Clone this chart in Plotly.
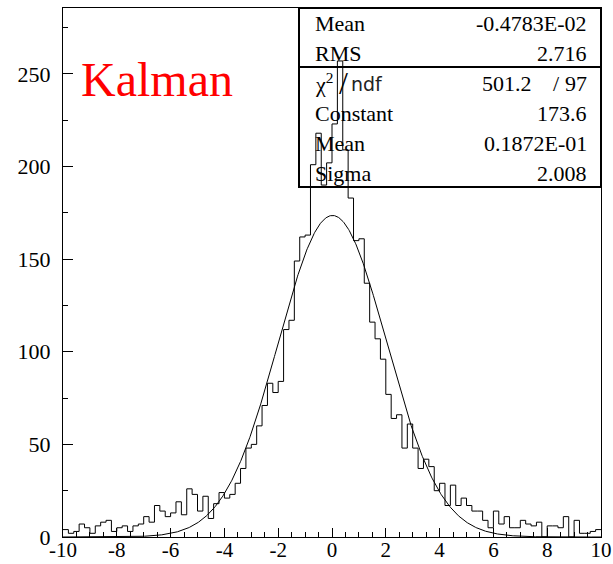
import numpy as np
import plotly.graph_objects as go

# Histogram definition: 100 bins of width 0.2 on [-10, 10]
x_min, x_max, n_bins = -10.0, 10.0, 100
counts = [
    4, 2, 3, 7, 5, 2, 6, 8, 9, 3,
    5, 6, 3, 6, 7, 11, 8, 17, 14, 11,
    13, 19, 12, 26, 23, 14, 22, 10, 18, 24,
    21, 23, 29, 37, 48, 50, 60, 71, 83, 78,
    84, 112, 117, 149, 162, 163, 201, 218, 190, 202,
    223, 257, 209, 183, 160, 161, 137, 116, 107, 96,
    77, 64, 66, 48, 61, 48, 37, 42, 38, 25,
    29, 17, 28, 17, 21, 17, 14, 14, 9, 5,
    14, 7, 11, 5, 5, 9, 7, 6, 8, 0,
    6, 6, 5, 11, 0, 9, 2, 2, 3, 4,
]

# Gaussian fit result
fit_constant = 173.6
fit_mean = 0.1872e-01
fit_sigma = 2.008

# Statistics box contents
stat_labels = ["Mean", "RMS", "χ<sup>2</sup>",
               "Constant", "Mean", "Sigma"]
stat_values = ["-0.4783E-02", "2.716", None, "173.6", "0.1872E-01", "2.008"]
chi2_text, ndf_text = "501.2", "97"

x_tickvals = [-10, -8, -6, -4, -2, 0, 2, 4, 6, 8, 10]
x_ticktext = ["-10", "-8", "-6", "-4", "-2", "0", "2", "4", "6", "8", "10"]
y_tickvals = [0, 50, 100, 150, 200, 250]
y_ticktext = ["0", "50", "100", "150", "200", "250"]
y_top = 285.6

# Page geometry
W, H = 613, 564
L, R, T, B = 63, 12, 8, 27
pw, ph = W - L - R, H - T - B


def px(xp):
    return (xp - L) / pw


def py(yp):
    return (H - B - yp) / ph


edges = np.linspace(x_min, x_max, n_bins + 1)
step_y = counts + [counts[-1]]

xf = np.linspace(x_min, x_max, 1001)
yf = fit_constant * np.exp(-0.5 * ((xf - fit_mean) / fit_sigma) ** 2)

serif = "Liberation Serif, Times New Roman, serif"
sans = "DejaVu Sans, sans-serif"

fig = go.Figure()
fig.add_trace(go.Scatter(x=edges, y=step_y, mode="lines", line_shape="hv",
                         line=dict(color="black", width=1), hoverinfo="skip"))
fig.add_trace(go.Scatter(x=xf, y=yf, mode="lines",
                         line=dict(color="black", width=1), hoverinfo="skip"))

axis_common = dict(showline=True, mirror=True, linecolor="black", linewidth=1,
                   showgrid=False, zeroline=False, ticks="inside",
                   tickcolor="black", tickwidth=1, automargin=False)

fig.update_xaxes(range=[x_min, x_max], tickvals=x_tickvals, ticktext=x_ticktext,
                 ticklen=9, ticklabelstandoff=-6,
                 tickfont=dict(family=serif, size=21, color="black"),
                 minor=dict(dtick=0.5, tick0=0, ticklen=5, ticks="inside",
                            tickcolor="black", tickwidth=1),
                 **axis_common)
fig.update_yaxes(range=[0, y_top], tickvals=y_tickvals, ticktext=y_ticktext,
                 ticklen=10, ticklabelstandoff=7,
                 tickfont=dict(family=serif, size=22, color="black"),
                 minor=dict(dtick=25, tick0=0, ticklen=5, ticks="inside",
                            tickcolor="black", tickwidth=1),
                 **axis_common)

# Statistics box
box_x0, box_x1, box_y0, box_y1, box_div = 299, 601, 8, 187, 67
shapes = [
    dict(type="rect", xref="paper", yref="paper", x0=px(box_x0), x1=px(box_x1),
         y0=py(box_y1), y1=py(box_y0), line=dict(color="black", width=2),
         fillcolor="rgba(0,0,0,0)", layer="above"),
    dict(type="line", xref="paper", yref="paper", x0=px(box_x0), x1=px(box_x1),
         y0=py(box_div), y1=py(box_div), line=dict(color="black", width=2),
         layer="above"),
]

row_y = [24, 53, 83, 113, 143, 173]
annotations = []
for label, value, yr in zip(stat_labels, stat_values, row_y):
    annotations.append(dict(text=label, xref="paper", yref="paper", x=px(313),
                            y=py(yr), xanchor="left", yanchor="middle",
                            showarrow=False,
                            font=dict(family=serif, size=22, color="black")))
    if value is not None:
        annotations.append(dict(text=value, xref="paper", yref="paper", x=px(589),
                                y=py(yr), xanchor="right", yanchor="middle",
                                showarrow=False,
                                font=dict(family=serif, size=22, color="black")))

# slash and "ndf" of the chi2 label
annotations.append(dict(text="/", xref="paper", yref="paper", x=px(343),
                        y=py(row_y[2]), xanchor="center", yanchor="middle",
                        showarrow=False,
                        font=dict(family=serif, size=32, color="black")))
annotations.append(dict(text="ndf", xref="paper", yref="paper", x=px(349),
                        y=py(row_y[2] + 1), xanchor="left", yanchor="middle",
                        showarrow=False,
                        font=dict(family=sans, size=19, color="#222")))

# chi2 / ndf values
for txt, xp, anchor in [(chi2_text, 534, "right"), ("/", 556, "center"),
                        (ndf_text, 589, "right")]:
    annotations.append(dict(text=txt, xref="paper", yref="paper", x=px(xp),
                            y=py(row_y[2]), xanchor=anchor, yanchor="middle",
                            showarrow=False,
                            font=dict(family=serif, size=22, color="black")))

annotations.append(dict(text="Kalman", xref="paper", yref="paper", x=px(79),
                        y=py(80), xanchor="left", yanchor="middle",
                        showarrow=False,
                        font=dict(family=serif, size=48, color="red")))

fig.update_layout(width=W, height=H, margin=dict(l=L, r=R, t=T, b=B),
                  paper_bgcolor="white", plot_bgcolor="white",
                  showlegend=False, shapes=shapes, annotations=annotations)

fig.write_html("out.html")
